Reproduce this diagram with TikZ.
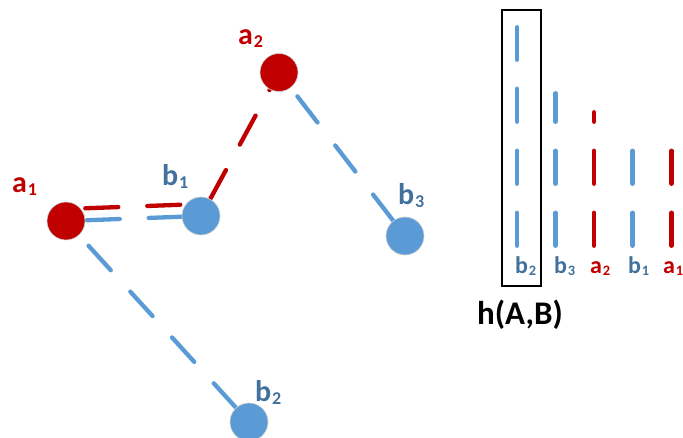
\documentclass[tikz,border=0pt]{standalone}
\usepackage{fontspec}
\setmainfont{Carlito}
\usetikzlibrary{backgrounds}
\definecolor{ared}{HTML}{C00000}
\definecolor{bblue}{HTML}{5B9BD5}
\definecolor{blabel}{HTML}{41719C}
% small index digit, set close to the letter
\newcommand\idx[1]{\kern0.03em\raisebox{-0.07em}{\scalebox{0.6}{#1}}}
\tikzset{
  pt/.style={circle, minimum size=38pt, inner sep=0pt, draw=black!18, line width=0.6pt},
  apt/.style={pt, fill=ared},
  bpt/.style={pt, fill=bblue},
  dashline/.style={line width=4.3pt, line cap=round, dash pattern=on 33pt off 29pt},
  alink/.style={dashline, draw=ared},
  blink/.style={dashline, draw=bblue},
  lab/.style={inner sep=0pt, anchor=base west, font=\fontsize{30}{30}\selectfont\bfseries},
  alab/.style={lab, text=ared},
  blab/.style={lab, text=blabel},
  barlab/.style={inner sep=0pt, anchor=base west, font=\fontsize{24}{24}\selectfont\bfseries},
}
\begin{document}
\begin{tikzpicture}[x=1pt, y=-1pt]
\useasboundingbox (0,0) rectangle (683,438);

% points of the two sets
\node[apt] (a1) at (66,221) {};
\node[apt] (a2) at (279,72.5) {};
\node[bpt] (b1) at (201,216) {};
\node[bpt] (b2) at (249,422) {};
\node[bpt] (b3) at (405,236) {};

% nearest-neighbour links, under the points
\begin{scope}[on background layer]
  \draw[alink, transform canvas={yshift=12pt}] (a1) -- (b1);
  \draw[blink] (b1) -- (a1);
  \draw[alink] (b1) -- (a2);
  \draw[blink] (b3) -- (a2);
  \draw[blink] (b2) -- (a1);
\end{scope}

% point labels
\node[alab] (la1) at (12,193) {a\idx{1}};
\node[alab] (la2) at (238,45) {a\idx{2}};
\node[blab] (lb1) at (162,186) {b\idx{1}};
\node[blab] (lb2) at (255,402) {b\idx{2}};
\node[blab] (lb3) at (398,205) {b\idx{3}};

% distance bars, each measured from the common base line
\draw[dashline, draw=bblue] (517,245.75) -- (517,27.25);
\draw[dashline, draw=bblue] (555.5,245.75) -- (555.5,93.25);
\draw[dashline, draw=ared] (594,245.75) -- (594,112.25);
\draw[dashline, draw=bblue] (632.5,245.75) -- (632.5,150.25);
\draw[dashline, draw=ared] (671.5,245.75) -- (671.5,150.25);

% bar labels
\node[barlab, text=blabel] (tb2) at (515,274) {b\idx{2}};
\node[barlab, text=blabel] (tb3) at (554,274) {b\idx{3}};
\node[barlab, text=ared] (ta2) at (590,274) {a\idx{2}};
\node[barlab, text=blabel] (tb1) at (628,274) {b\idx{1}};
\node[barlab, text=ared] (ta1) at (663,274) {a\idx{1}};

% the largest distance is boxed
\draw[line width=2.6pt] (502,10) rectangle (541,286);
\node[inner sep=0pt, anchor=base, font=\fontsize{33}{33}\selectfont\bfseries] (h) at (520,325) {h(A,B)};
\end{tikzpicture}
\end{document}
